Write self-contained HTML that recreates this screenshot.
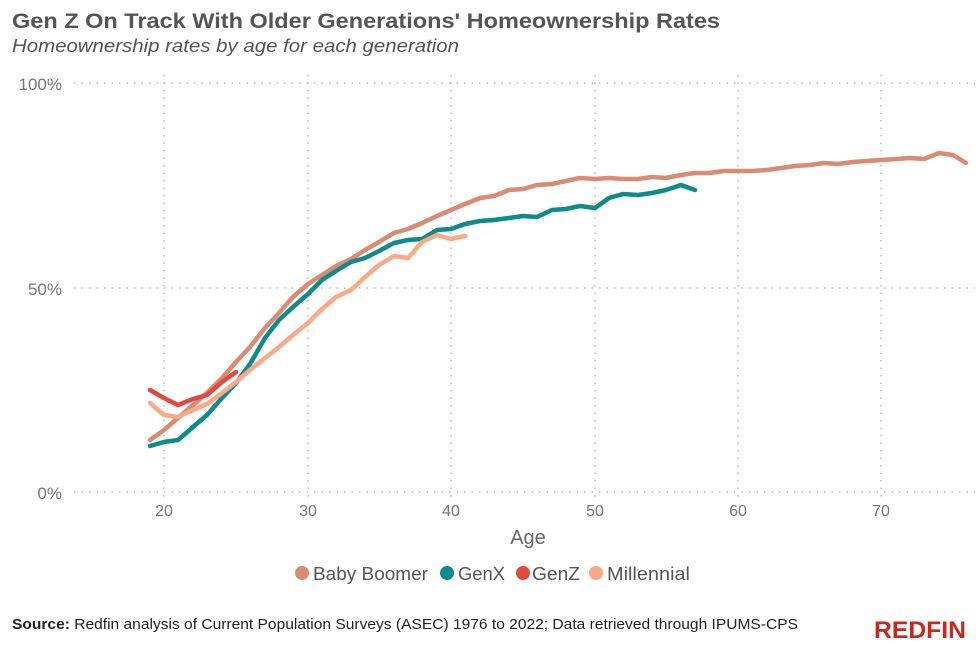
<!DOCTYPE html><html><head><style>body{margin:0;background:#fff;font-family:"Liberation Sans",sans-serif}</style></head><body>
<svg width="980" height="657" xmlns="http://www.w3.org/2000/svg" font-family="Liberation Sans, sans-serif">
<text x="12" y="28" font-size="21" font-weight="bold" fill="#555" textLength="708" lengthAdjust="spacingAndGlyphs">Gen Z On Track With Older Generations' Homeownership Rates</text>
<text x="12" y="52" font-size="18" font-style="italic" fill="#555" textLength="447" lengthAdjust="spacingAndGlyphs">Homeownership rates by age for each generation</text>
<g stroke="#bbb" stroke-width="1.5" stroke-dasharray="1.5,6">
<line x1="74" y1="83" x2="975" y2="83"/><line x1="74" y1="288" x2="975" y2="288"/><line x1="74" y1="492" x2="975" y2="492"/>
<line x1="164" y1="75" x2="164" y2="500"/><line x1="308" y1="75" x2="308" y2="500"/><line x1="451" y1="75" x2="451" y2="500"/><line x1="595" y1="75" x2="595" y2="500"/><line x1="738" y1="75" x2="738" y2="500"/><line x1="881" y1="75" x2="881" y2="500"/>
</g>
<g font-size="17" fill="#777" text-anchor="end"><text x="62" y="90">100%</text><text x="62" y="295">50%</text><text x="62" y="499">0%</text></g>
<g font-size="16" fill="#777" text-anchor="middle"><text x="164" y="516">20</text><text x="308" y="516">30</text><text x="451" y="516">40</text><text x="595" y="516">50</text><text x="738" y="516">60</text><text x="881" y="516">70</text></g>
<text x="528" y="544" font-size="20" fill="#666" text-anchor="middle">Age</text>
<g fill="none" stroke-width="4.5" stroke-linejoin="round" stroke-linecap="round">
<polyline stroke="#d98b74" points="150,440 164,430 178,418 193,405 207,393 222,378 236,362 250,347 265,328 279,313 293,297 308,284 322,275 336,266 351,259 365,250 379,242 394,233 408,229 422,223 437,216 451,210 465,204 480,198 494,196 509,190 523,189 537,185 552,184 566,181 580,178 595,179 609,178 623,179 638,179 652,177 666,178 681,175 695,173 709,173 724,171 738,171 752,171 767,170 781,168 795,166 810,165 824,163 838,164 853,162 867,161 881,160 896,159 910,158 924,159 939,153 953,155 966,163"/>
<polyline stroke="#0e8b8b" points="150,446 164,442 178,440 193,427 207,415 222,398 236,383 250,364 265,338 279,320 293,307 308,294 322,280 336,271 351,262 365,258 379,251 394,243 408,240 422,239 437,230 451,229 465,224 480,221 494,220 509,218 523,216 537,217 552,210 566,209 580,206 595,208 609,198 623,194 638,195 652,193 666,190 681,185 695,190"/>
<polyline stroke="#fca98a" points="150,403 164,415 178,417 193,410 207,404 222,393 236,382 250,370 265,358 279,347 293,335 308,323 322,309 336,297 351,290 365,277 379,265 394,256 408,258 422,242 437,235 451,239 465,236"/>
<polyline stroke="#e04a3f" points="150,390 164,398 178,405 193,399 207,395 222,382 236,372"/>
</g>
<g font-size="18" fill="#555">
<circle cx="302" cy="573" r="7" fill="#d98b74"/><text x="313" y="580" textLength="115" lengthAdjust="spacingAndGlyphs">Baby Boomer</text>
<circle cx="447" cy="573" r="7" fill="#0e8b8b"/><text x="458" y="580" textLength="47" lengthAdjust="spacingAndGlyphs">GenX</text>
<circle cx="523" cy="573" r="7" fill="#e04a3f"/><text x="532" y="580" textLength="48" lengthAdjust="spacingAndGlyphs">GenZ</text>
<circle cx="596" cy="573" r="7" fill="#fca98a"/><text x="607" y="580" textLength="83" lengthAdjust="spacingAndGlyphs">Millennial</text>
</g>
<text x="12" y="629" font-size="14.5" fill="#222" textLength="786" lengthAdjust="spacingAndGlyphs"><tspan font-weight="bold">Source:</tspan> Redfin analysis of Current Population Surveys (ASEC) 1976 to 2022; Data retrieved through IPUMS-CPS</text>
<text x="966" y="638" font-size="24" font-weight="bold" fill="#c8281e" text-anchor="end" textLength="92" lengthAdjust="spacingAndGlyphs">REDFIN</text>
</svg></body></html>
